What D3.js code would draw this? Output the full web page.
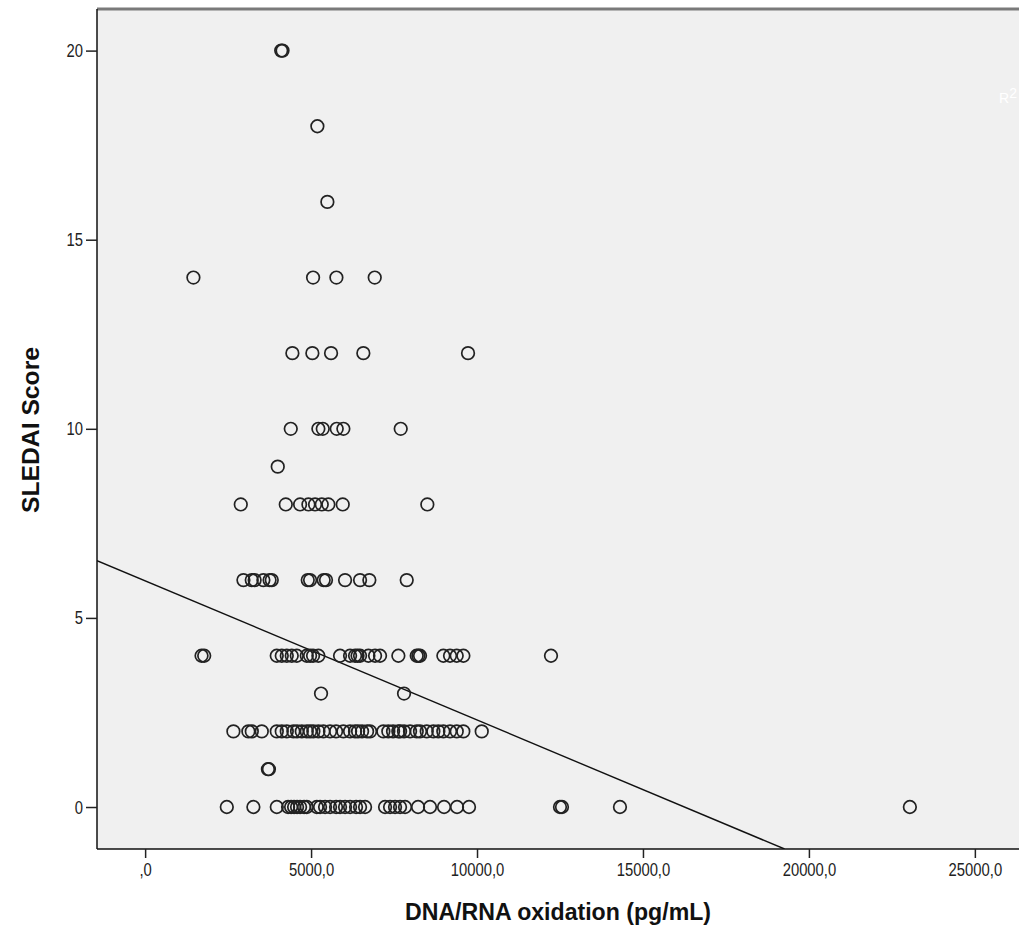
<!DOCTYPE html>
<html>
<head>
<meta charset="utf-8">
<script src="https://cdn.jsdelivr.net/npm/d3@7.9.0/dist/d3.min.js"></script>
<style>
  body { margin: 0; background: #fff; }
  svg { display: block; }
</style>
</head>
<body>
<svg id="chart" width="1019" height="940"></svg>
<script>
// oxidation values (pg/mL) for each SLEDAI score level
const score0 = [2461, 3262, 3967, 4307, 4398, 4488, 4578, 4669, 4789, 4870, 5172, 5271, 5422, 5572, 5753, 5873, 6024, 6175, 6355, 6476, 6627, 7229, 7380, 7530, 7681, 7831, 8223, 8584, 9006, 9398, 9759, 12500, 12560, 14307, 23042];
const score1 = [3700, 3730];
const score2 = [2660, 3111, 3214, 3515, 3967, 4117, 4268, 4467, 4578, 4720, 4870, 4970, 5069, 5220, 5370, 5572, 5753, 5973, 6175, 6325, 6416, 6536, 6687, 6777, 7178, 7328, 7470, 7630, 7681, 7801, 7982, 8183, 8283, 8485, 8684, 8834, 8985, 9187, 9389, 9587, 10142];
const score3 = [5300, 7801];
const score4 = [1700, 1780, 3966, 4117, 4268, 4418, 4569, 4870, 4970, 5060, 5220, 5873, 6175, 6325, 6400, 6476, 6727, 6928, 7078, 7630, 8183, 8233, 8283, 8986, 9187, 9388, 9589, 12229];
const score6 = [2962, 3213, 3300, 3563, 3750, 3816, 4900, 4970, 5380, 5450, 6024, 6476, 6756, 7882];
const score8 = [2882, 4238, 4669, 4920, 5120, 5322, 5521, 5954, 8503];
const score9 = [3996];
const score10 = [4388, 5220, 5352, 5773, 5973, 7701];
const score12 = [4437, 5039, 5602, 6575, 9729];
const score14 = [1455, 5060, 5763, 6918];
const score16 = [5491];
const score18 = [5190];
const score20 = [4100, 4140];

const xTicks = [0, 5000, 10000, 15000, 20000, 25000];
const yTicks = [0, 5, 10, 15, 20];

// linear fit
const fitIntercept = 5.98;
const fitSlope = -0.000368;

const rows = [
  [0, score0], [1, score1], [2, score2], [3, score3], [4, score4], [6, score6],
  [8, score8], [9, score9], [10, score10], [12, score12], [14, score14],
  [16, score16], [18, score18], [20, score20]
];
const points = rows.flatMap(([s, xs]) => xs.map(v => ({ x: v, y: s })));

const pLeft = 97, pRight = 1019, pTop = 9, pBottom = 849;
const xDomain = [-1450, 26330];
const yDomain = [-1.11, 21.1];

const x = d3.scaleLinear().domain(xDomain).range([pLeft, pRight]);
const y = d3.scaleLinear().domain(yDomain).range([pBottom, pTop]);

const svg = d3.select("#chart");
const font = "'Liberation Sans', Arial, sans-serif";
const squeeze = 0.78; // the original uses a condensed face

svg.append("defs").append("clipPath")
  .attr("id", "plot-clip")
  .append("rect")
  .attr("x", pLeft).attr("y", pTop)
  .attr("width", pRight - pLeft).attr("height", pBottom - pTop);

svg.append("rect")
  .attr("x", pLeft).attr("y", pTop)
  .attr("width", pRight - pLeft).attr("height", pBottom - pTop)
  .attr("fill", "#f0f0f0");

const plot = svg.append("g").attr("clip-path", "url(#plot-clip)");

// fit line
const xEnd = (yDomain[0] - fitIntercept) / fitSlope;
plot.append("path")
  .datum([xDomain[0], xEnd])
  .attr("fill", "none")
  .attr("stroke", "#111")
  .attr("stroke-width", 1.4)
  .attr("d", d3.line().x(d => x(d)).y(d => y(fitIntercept + fitSlope * d)));

plot.selectAll("circle")
  .data(points)
  .join("circle")
  .attr("cx", d => x(d.x))
  .attr("cy", d => y(d.y))
  .attr("r", 6.3)
  .attr("fill", "none")
  .attr("stroke", "#222")
  .attr("stroke-width", 1.7);

// R2 label, white as in the original
const r2 = svg.append("text")
  .attr("x", 999).attr("y", 103)
  .attr("fill", "#ffffff")
  .attr("font-family", font)
  .attr("font-size", 14);
r2.append("tspan").text("R");
r2.append("tspan").attr("dy", -5).text("2");

// top border
svg.append("line")
  .attr("x1", pLeft).attr("x2", pRight)
  .attr("y1", pTop).attr("y2", pTop)
  .attr("stroke", "#7a7a7a").attr("stroke-width", 3);

const fmt = v => v === 0 ? ",0" : v.toFixed(1).replace(".", ",");

const xAxis = svg.append("g")
  .attr("transform", `translate(0,${pBottom})`)
  .call(d3.axisBottom(x).tickValues(xTicks).tickFormat(fmt).tickSize(9).tickPadding(5));
const yAxis = svg.append("g")
  .attr("transform", `translate(${pLeft},0)`)
  .call(d3.axisLeft(y).tickValues(yTicks).tickSize(11).tickPadding(3));

[xAxis, yAxis].forEach(g => {
  g.select(".domain").attr("stroke", "#111").attr("stroke-width", 1.5);
  g.selectAll(".tick line").attr("stroke", "#222").attr("stroke-width", 1.5);
  g.selectAll(".tick text")
    .attr("font-family", font)
    .attr("font-size", 19)
    .attr("fill", "#222")
    .attr("transform", `scale(${squeeze},1)`);
});
yAxis.selectAll(".tick text").attr("x", -14 / squeeze);
xAxis.select(".domain").attr("d", `M${pLeft},0H${pRight}`);
yAxis.select(".domain").attr("d", `M0,${pTop}V${pBottom}`);

svg.append("text")
  .attr("x", 558).attr("y", 920)
  .attr("text-anchor", "middle")
  .attr("font-family", font)
  .attr("font-size", 24)
  .attr("font-weight", "bold")
  .attr("fill", "#111")
  .attr("textLength", 306)
  .attr("lengthAdjust", "spacingAndGlyphs")
  .text("DNA/RNA oxidation (pg/mL)");

svg.append("text")
  .attr("transform", "translate(39,430) rotate(-90)")
  .attr("text-anchor", "middle")
  .attr("font-family", font)
  .attr("font-size", 24)
  .attr("font-weight", "bold")
  .attr("fill", "#111")
  .attr("textLength", 166)
  .attr("lengthAdjust", "spacingAndGlyphs")
  .text("SLEDAI Score");
</script>
</body>
</html>
